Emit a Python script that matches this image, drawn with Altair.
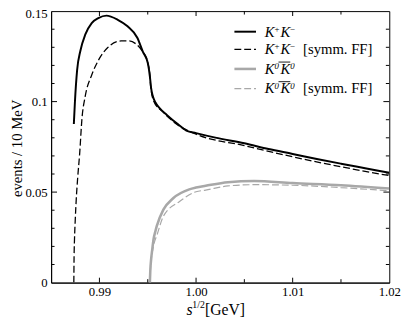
import altair as alt
import pandas as pd

# ---- data ----
kk_x = [0.98735, 0.98746, 0.98769, 0.98803, 0.98854, 0.98920, 0.98988, 0.99072,
        0.99190, 0.99291, 0.99392, 0.99450, 0.99500, 0.99522, 0.99535, 0.99550,
        0.99580, 0.99620, 0.99700, 0.99800, 0.99900, 1.00000, 1.00200, 1.00500,
        1.00750, 1.01000, 1.01250, 1.01500, 1.01750, 1.02000]
kk_y = [0.0876, 0.0995, 0.1174, 0.1281, 0.1371, 0.1434, 0.1461, 0.1475,
        0.1452, 0.1416, 0.1353, 0.1275, 0.1215, 0.1140, 0.1075, 0.1035,
        0.0995, 0.0965, 0.0925, 0.0880, 0.0840, 0.0826, 0.0801, 0.0770,
        0.0738, 0.0711, 0.0683, 0.0657, 0.0632, 0.0607]

kk_symm_x = [0.98735, 0.98737, 0.98742, 0.98750, 0.98760, 0.98775, 0.98795, 0.98819,
             0.98853, 0.98920, 0.98988, 0.99089, 0.99224, 0.99308, 0.99375, 0.99443,
             0.99493, 0.99522, 0.99530, 0.99561, 0.99662, 0.99800, 1.00000, 1.00500,
             1.01000, 1.01500, 1.02000]
kk_symm_y = [0.0, 0.0120, 0.0240, 0.0350, 0.0460, 0.0580, 0.0710, 0.0905,
             0.1030, 0.1147, 0.1227, 0.1300, 0.1335, 0.1335, 0.1320, 0.1280,
             0.1227, 0.1150, 0.1084, 0.1004, 0.0941, 0.0875, 0.0820, 0.0757,
             0.0695, 0.0640, 0.0591]

k0_x = [0.99522, 0.99526, 0.99536, 0.99545, 0.99561, 0.99580, 0.99594, 0.99662,
        0.99763, 0.99930, 1.00000, 1.00100, 1.00330, 1.00600, 1.01000, 1.01500,
        1.02000]
k0_y = [0.0, 0.0060, 0.0134, 0.0175, 0.0242, 0.0285, 0.0313, 0.0403,
        0.0466, 0.0515, 0.0525, 0.0535, 0.0555, 0.0561, 0.0550, 0.0538,
        0.0520]

k0_symm_x = [0.99522, 0.99530, 0.99545, 0.99561, 0.99600, 0.99662, 0.99829, 1.00000,
             1.00100, 1.00330, 1.00600, 1.01000, 1.01500, 1.02000]
k0_symm_y = [0.0, 0.0090, 0.0160, 0.0206, 0.0270, 0.0367, 0.0448, 0.0502,
             0.0511, 0.0534, 0.0541, 0.0538, 0.0525, 0.0507]

x_major = [0.99, 1.00, 1.01]
x_minor = [0.995, 1.005, 1.015]
x_labels = [0.99, 1.00, 1.01, 1.02]
y_major = [0.05, 0.10]
y_minor = [0.01, 0.02, 0.03, 0.04, 0.06, 0.07, 0.08, 0.09, 0.11, 0.12, 0.13, 0.14]
y_labels = [0, 0.05, 0.10, 0.15]

# legend: superscripts, overbar on 2nd K, suffix
legend_sup1 = ["+", "+", "0", "0"]
legend_sup2 = ["\u2212", "\u2212", "0", "0"]
legend_bar = [False, False, True, True]
legend_suffix = ["", "[symm. FF]", "", "[symm. FF]"]

# ---- layout ----
W, H = 345, 277
FONT = "Liberation Serif, Times New Roman, serif"
GREY = "#a8a8a8"

xscale = alt.Scale(domain=[0.985, 1.02], nice=False, zero=False)
yscale = alt.Scale(domain=[0, 0.15], nice=False, zero=False)
xaxis = alt.Axis(values=x_labels, format=".2f", ticks=False, tickSize=0, labelPadding=3,
                 grid=False, title=None, domainColor="black", labelFont=FONT,
                 labelFontSize=13, labelColor="black", labelFlush=False, labelOverlap=False)
yaxis = alt.Axis(values=y_labels, format=".2~f", ticks=False, tickSize=0, labelPadding=4,
                 grid=False, title=None, domainColor="black", labelFont=FONT,
                 labelFontSize=13, labelColor="black", labelFlush=False, labelOverlap=False,
                 labelBaseline={"condition": {"test": "datum.value >= 0.149", "value": "top"},
                                "value": "middle"},
                 labelOffset={"condition": {"test": "datum.value >= 0.149", "value": -3},
                              "value": 0})


def X(f="x"):
    return alt.X(f"{f}:Q", scale=xscale, axis=xaxis)


def Y(f="y"):
    return alt.Y(f"{f}:Q", scale=yscale, axis=yaxis)


def line(xs, ys, color, width, dash=None):
    df = pd.DataFrame({"x": xs, "y": ys})
    kw = dict(color=color, strokeWidth=width, interpolate="monotone", clip=True)
    if dash:
        kw["strokeDash"] = dash
    return alt.Chart(df).mark_line(**kw).encode(x=X(), y=Y())


layers = [
    line(k0_x, k0_y, GREY, 2.6),
    line(k0_symm_x, k0_symm_y, GREY, 1.2, [7, 3]),
    line(kk_symm_x, kk_symm_y, "black", 1.3, [7, 3]),
    line(kk_x, kk_y, "black", 2.0),
]


def xticks(vals, length):
    df = pd.DataFrame({"x": vals})
    bot = alt.Chart(df).mark_rule(color="black", strokeWidth=1).encode(
        x=X(), y=alt.value(H), y2=alt.value(H - length))
    top = alt.Chart(df).mark_rule(color="black", strokeWidth=1).encode(
        x=X(), y=alt.value(0), y2=alt.value(length))
    return [bot, top]


def yticks(vals, length):
    df = pd.DataFrame({"y": vals})
    left = alt.Chart(df).mark_rule(color="black", strokeWidth=1).encode(
        y=Y(), x=alt.value(0), x2=alt.value(length))
    right = alt.Chart(df).mark_rule(color="black", strokeWidth=1).encode(
        y=Y(), x=alt.value(W), x2=alt.value(W - length))
    return [left, right]


layers += xticks(x_major, 5) + xticks(x_minor, 3.5)
layers += yticks(y_major, 6) + yticks(y_minor, 3.5)

one = pd.DataFrame({"a": [0]})


def txt(s, x, y, size, italic=False, align="left", baseline="alphabetic", angle=None):
    kw = dict(text=s, font=FONT, fontSize=size, align=align, baseline=baseline, color="black")
    if italic:
        kw["fontStyle"] = "italic"
    if angle is not None:
        kw["angle"] = angle
    return alt.Chart(one).mark_text(**kw).encode(x=alt.value(x), y=alt.value(y))


# legend
leg_y = [21, 39, 59, 79]
leg_styles = [("black", 2.0, None), ("black", 1.3, [7, 3]), (GREY, 2.6, None), (GREY, 1.2, [7, 3])]
X0 = 218
for i in range(4):
    col, wd, dash = leg_styles[i]
    kw = dict(color=col, strokeWidth=wd)
    if dash:
        kw["strokeDash"] = dash
    ly = leg_y[i]
    layers.append(alt.Chart(one).mark_rule(**kw).encode(
        x=alt.value(187), x2=alt.value(209), y=alt.value(ly)))
    base = ly + 5
    layers.append(txt("K", X0, base, 15, italic=True))
    layers.append(txt(legend_sup1[i], X0 + 10, base - 5, 9, italic=(legend_sup1[i] == "0")))
    layers.append(txt("K", X0 + 16, base, 15, italic=True))
    layers.append(txt(legend_sup2[i], X0 + 26, base - 5, 9, italic=(legend_sup2[i] == "0")))
    if legend_bar[i]:
        layers.append(alt.Chart(one).mark_rule(color="black", strokeWidth=0.9).encode(
            x=alt.value(X0 + 14), x2=alt.value(X0 + 26), y=alt.value(base - 12)))
    if legend_suffix[i]:
        layers.append(txt(legend_suffix[i], X0 + 39, base, 15))

# axis titles
layers.append(txt("events / 10 MeV", -35, 140, 15, align="center", baseline="middle", angle=270))
layers.append(txt("s", 138, 310, 16, italic=True))
layers.append(txt("1/2", 144, 303, 10))
layers.append(txt("[GeV]", 157, 310, 16))

chart = alt.layer(*layers).properties(
    width=W, height=H,
    autosize=alt.AutoSizeParams(type="none"),
    padding={"left": 44, "top": 0, "right": 14, "bottom": 36},
    background="white",
).configure_view(stroke="black", strokeWidth=1)

chart.save("out.html", embed_options={"renderer": "svg", "actions": False})
